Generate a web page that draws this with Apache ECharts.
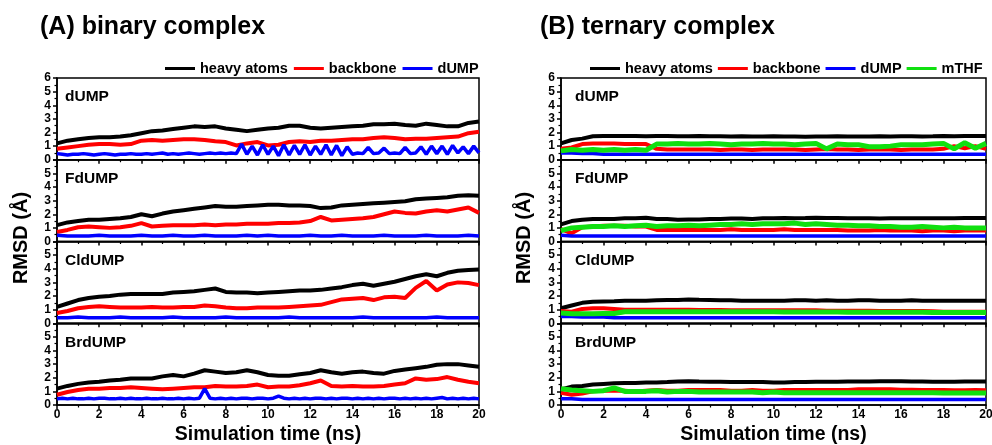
<!DOCTYPE html>
<html><head><meta charset="utf-8">
<script src="https://cdn.jsdelivr.net/npm/echarts@6/dist/echarts.min.js"></script>
<style>html,body{margin:0;padding:0;background:#fff}#c{width:992px;height:445px}</style>
</head><body><div id="c"></div>
<script>
// ---------- data ----------
const T = [0,0.5,1,1.5,2,2.5,3,3.5,4,4.5,5,5.5,6,6.5,7,7.5,8,8.5,9,9.5,10,10.5,11,11.5,12,12.5,13,13.5,14,14.5,15,15.5,16,16.5,17,17.5,18,18.5,19,19.5,20];
const TD = [0,0.25,0.5,0.75,1,1.25,1.5,1.75,2,2.25,2.5,2.75,3,3.25,3.5,3.75,4,4.25,4.5,4.75,5,5.25,5.5,5.75,6,6.25,6.5,6.75,7,7.25,7.5,7.75,8,8.25,8.5,8.75,9,9.25,9.5,9.75,10,10.25,10.5,10.75,11,11.25,11.5,11.75,12,12.25,12.5,12.75,13,13.25,13.5,13.75,14,14.25,14.5,14.75,15,15.25,15.5,15.75,16,16.25,16.5,16.75,17,17.25,17.5,17.75,18,18.25,18.5,18.75,19,19.25,19.5,19.75,20];
const xTicks = [0,2,4,6,8,10,12,14,16,18,20];
const yTicks = [0,1,2,3,4,5,6];
const seriesNames = ['heavy atoms','backbone','dUMP','mTHF'];
const ligands = ['dUMP','FdUMP','CldUMP','BrdUMP'];
const panelTitles = ['(A) binary complex','(B) ternary complex'];

// (A) binary complex
const A1_heavy = [1.2,1.4,1.5,1.6,1.65,1.65,1.7,1.8,1.95,2.1,2.15,2.25,2.35,2.45,2.4,2.45,2.3,2.2,2.1,2.2,2.3,2.35,2.5,2.5,2.35,2.3,2.35,2.4,2.45,2.5,2.6,2.6,2.65,2.55,2.5,2.65,2.55,2.45,2.45,2.7,2.8];
const A1_backbone = [0.8,0.9,1.0,1.1,1.15,1.15,1.1,1.15,1.4,1.45,1.4,1.45,1.5,1.5,1.45,1.35,1.3,1.05,1.2,1.3,1.05,1.1,1.3,1.35,1.3,1.4,1.4,1.45,1.5,1.5,1.6,1.65,1.6,1.5,1.55,1.55,1.6,1.65,1.7,1.95,2.05];
const A1_dUMP = [0.45,0.4,0.35,0.4,0.4,0.45,0.4,0.35,0.4,0.45,0.4,0.35,0.4,0.4,0.45,0.4,0.4,0.45,0.4,0.45,0.5,0.4,0.45,0.4,0.45,0.5,0.45,0.4,0.45,0.5,0.45,0.5,0.45,0.5,0.45,1.15,0.4,1.0,0.35,1.1,0.4,1.0,0.3,1.1,0.35,1.05,0.4,1.1,0.35,1.0,0.4,1.1,0.35,1.05,0.3,0.95,0.4,0.5,0.45,0.9,0.45,0.5,0.85,0.45,0.5,0.45,0.9,0.45,0.5,0.95,0.4,1.0,0.45,1.0,0.4,1.05,0.5,0.95,0.45,1.0,0.5];
const A2_heavy = [1.2,1.4,1.5,1.6,1.6,1.65,1.7,1.8,2.0,1.85,2.05,2.2,2.3,2.4,2.5,2.6,2.55,2.55,2.6,2.65,2.7,2.7,2.65,2.65,2.6,2.45,2.5,2.65,2.7,2.75,2.8,2.85,2.9,2.95,3.1,3.15,3.2,3.25,3.35,3.4,3.35];
const A2_backbone = [0.7,0.85,1.05,1.1,1.05,1.0,1.05,1.15,1.35,1.1,1.15,1.2,1.2,1.2,1.25,1.2,1.25,1.25,1.3,1.3,1.3,1.35,1.35,1.4,1.5,1.8,1.55,1.6,1.65,1.7,1.8,2.0,2.2,2.1,2.05,2.2,2.3,2.2,2.35,2.5,2.1];
const A2_dUMP = [0.45,0.4,0.4,0.4,0.45,0.4,0.4,0.4,0.45,0.4,0.4,0.45,0.4,0.4,0.45,0.4,0.4,0.4,0.45,0.4,0.45,0.4,0.4,0.4,0.45,0.4,0.4,0.45,0.4,0.4,0.4,0.45,0.4,0.4,0.4,0.45,0.4,0.4,0.4,0.45,0.4];
const A3_heavy = [1.2,1.45,1.7,1.85,1.95,2.0,2.1,2.15,2.15,2.15,2.15,2.25,2.3,2.35,2.45,2.55,2.3,2.25,2.25,2.2,2.25,2.3,2.35,2.4,2.4,2.45,2.55,2.65,2.8,2.9,2.75,2.9,3.05,3.25,3.45,3.6,3.45,3.7,3.85,3.9,3.95];
const A3_backbone = [0.75,0.9,1.1,1.2,1.25,1.2,1.15,1.15,1.15,1.2,1.15,1.15,1.2,1.2,1.3,1.25,1.15,1.1,1.1,1.15,1.15,1.15,1.2,1.25,1.3,1.35,1.55,1.75,1.8,1.85,1.7,1.9,1.95,1.85,2.6,3.1,2.4,2.85,3.0,2.95,2.8];
const A3_dUMP = [0.4,0.4,0.45,0.4,0.4,0.4,0.45,0.4,0.4,0.4,0.4,0.45,0.4,0.4,0.4,0.4,0.45,0.4,0.4,0.4,0.4,0.4,0.45,0.4,0.4,0.4,0.4,0.4,0.4,0.45,0.4,0.4,0.4,0.4,0.4,0.4,0.45,0.4,0.4,0.4,0.4];
const A4_heavy = [1.2,1.4,1.55,1.65,1.7,1.8,1.85,1.95,1.95,1.95,2.1,2.2,2.1,2.3,2.55,2.45,2.35,2.4,2.55,2.4,2.2,2.15,2.15,2.25,2.35,2.55,2.4,2.3,2.4,2.45,2.35,2.3,2.5,2.6,2.7,2.8,2.95,3.0,3.0,2.9,2.8];
const A4_backbone = [0.75,0.95,1.1,1.2,1.2,1.25,1.25,1.3,1.25,1.2,1.15,1.2,1.25,1.3,1.3,1.4,1.35,1.35,1.4,1.5,1.3,1.35,1.35,1.45,1.6,1.8,1.4,1.35,1.4,1.35,1.35,1.4,1.5,1.6,1.95,1.85,1.9,2.05,1.85,1.7,1.6];
const A4_dUMP = [0.45,0.5,0.45,0.5,0.45,0.45,0.5,0.45,0.5,0.5,0.45,0.45,0.5,0.45,0.5,0.45,0.45,0.5,0.45,0.45,0.5,0.45,0.45,0.5,0.45,0.5,0.45,0.5,1.2,0.5,0.45,0.5,0.45,0.5,0.45,0.5,0.5,0.45,0.5,0.5,0.45,0.5,0.65,0.5,0.45,0.5,0.45,0.5,0.45,0.5,0.5,0.45,0.5,0.45,0.5,0.5,0.45,0.5,0.45,0.5,0.45,0.5,0.45,0.5,0.5,0.45,0.5,0.45,0.5,0.45,0.5,0.45,0.5,0.55,0.45,0.5,0.45,0.5,0.45,0.5,0.45];

// (B) ternary complex
const B1_heavy = [1.2,1.45,1.55,1.72,1.75,1.75,1.75,1.75,1.72,1.75,1.75,1.72,1.72,1.75,1.72,1.72,1.7,1.72,1.7,1.7,1.72,1.7,1.7,1.68,1.7,1.7,1.72,1.7,1.7,1.7,1.72,1.7,1.72,1.72,1.7,1.72,1.75,1.72,1.75,1.75,1.75];
const B1_backbone = [0.8,0.9,1.15,1.2,1.2,1.2,1.15,1.15,1.15,0.8,0.75,0.75,0.75,0.75,0.75,0.72,0.75,0.75,0.72,0.75,0.75,0.75,0.75,0.72,0.75,0.78,0.75,0.75,0.72,0.75,0.75,0.75,0.72,0.75,0.75,0.75,0.8,1.0,0.85,1.0,0.8];
const B1_dUMP = [0.5,0.5,0.45,0.45,0.4,0.4,0.4,0.4,0.4,0.4,0.4,0.4,0.4,0.4,0.4,0.4,0.4,0.4,0.4,0.4,0.4,0.4,0.4,0.4,0.4,0.4,0.4,0.4,0.4,0.4,0.4,0.4,0.4,0.4,0.4,0.4,0.4,0.4,0.4,0.4,0.4];
const B1_mTHF = [0.65,0.75,0.7,0.75,0.7,0.75,0.7,0.75,0.7,1.15,1.15,1.2,1.15,1.15,1.2,1.15,1.1,1.15,1.15,1.2,1.15,1.15,1.1,1.15,1.2,0.8,1.15,1.1,1.1,0.95,0.95,1.0,1.1,1.1,1.1,1.15,1.2,0.8,1.25,0.85,1.2];
const B2_heavy = [1.25,1.5,1.6,1.65,1.65,1.65,1.7,1.7,1.75,1.65,1.65,1.6,1.62,1.62,1.65,1.65,1.68,1.68,1.65,1.7,1.7,1.72,1.7,1.72,1.75,1.72,1.72,1.7,1.7,1.7,1.68,1.7,1.7,1.7,1.7,1.7,1.7,1.7,1.72,1.72,1.72];
const B2_backbone = [0.9,0.6,1.05,1.1,1.15,1.15,1.15,1.1,1.1,0.85,0.85,0.85,0.85,0.85,0.85,0.85,0.9,0.85,0.85,0.85,0.85,0.9,0.85,0.85,0.85,0.85,0.85,0.8,0.8,0.8,0.85,0.8,0.8,0.8,0.75,0.8,0.8,0.75,0.8,0.8,0.8];
const B2_dUMP = [0.45,0.4,0.4,0.4,0.4,0.4,0.4,0.4,0.4,0.4,0.4,0.4,0.4,0.4,0.4,0.4,0.4,0.4,0.4,0.4,0.4,0.4,0.4,0.4,0.4,0.4,0.4,0.4,0.4,0.4,0.4,0.4,0.4,0.4,0.4,0.4,0.4,0.4,0.4,0.4,0.4];
const B2_mTHF = [0.8,1.0,1.05,1.1,1.1,1.15,1.1,1.15,1.2,1.1,1.15,1.15,1.2,1.15,1.2,1.25,1.25,1.3,1.25,1.3,1.3,1.3,1.35,1.25,1.3,1.25,1.2,1.2,1.15,1.15,1.1,1.1,1.05,1.05,1.1,1.05,1.0,1.05,1.0,1.0,1.0];
const B3_heavy = [1.1,1.3,1.5,1.58,1.6,1.62,1.65,1.65,1.65,1.68,1.7,1.7,1.75,1.72,1.7,1.68,1.68,1.65,1.65,1.65,1.65,1.65,1.68,1.68,1.65,1.68,1.65,1.65,1.68,1.68,1.65,1.65,1.65,1.68,1.65,1.65,1.65,1.65,1.65,1.65,1.65];
const B3_backbone = [0.9,0.85,1.05,1.1,1.1,1.05,1.0,1.0,1.0,1.0,1.0,1.0,1.0,0.98,0.98,0.98,0.95,0.95,0.95,0.95,0.95,0.95,0.95,0.95,0.95,0.92,0.92,0.92,0.92,0.92,0.9,0.9,0.9,0.9,0.9,0.88,0.85,0.85,0.85,0.85,0.85];
const B3_dUMP = [0.5,0.5,0.45,0.45,0.45,0.4,0.4,0.4,0.4,0.4,0.4,0.4,0.4,0.4,0.4,0.4,0.4,0.4,0.4,0.4,0.4,0.4,0.4,0.4,0.4,0.4,0.4,0.4,0.4,0.4,0.4,0.4,0.4,0.4,0.4,0.4,0.4,0.4,0.4,0.4,0.4];
const B3_mTHF = [0.75,0.7,0.7,0.7,0.72,0.72,0.85,0.85,0.85,0.85,0.85,0.85,0.85,0.85,0.85,0.85,0.85,0.85,0.85,0.85,0.85,0.82,0.82,0.82,0.82,0.82,0.82,0.8,0.8,0.8,0.8,0.8,0.8,0.8,0.8,0.78,0.78,0.78,0.78,0.78,0.78];
const B4_heavy = [1.15,1.35,1.4,1.5,1.55,1.6,1.62,1.62,1.65,1.65,1.68,1.72,1.75,1.72,1.7,1.7,1.68,1.68,1.68,1.68,1.65,1.65,1.68,1.68,1.7,1.7,1.7,1.72,1.72,1.72,1.75,1.75,1.75,1.72,1.72,1.7,1.7,1.7,1.72,1.72,1.72];
const B4_backbone = [0.9,0.75,0.85,1.0,1.05,1.05,1.05,1.0,1.05,1.1,1.05,1.05,1.1,1.1,1.1,1.1,1.05,1.05,1.1,1.05,1.05,1.1,1.1,1.1,1.1,1.1,1.1,1.1,1.15,1.15,1.15,1.15,1.12,1.12,1.1,1.1,1.1,1.08,1.08,1.1,1.08];
const B4_dUMP = [0.45,0.45,0.4,0.4,0.4,0.4,0.4,0.4,0.4,0.4,0.4,0.4,0.4,0.4,0.4,0.4,0.4,0.4,0.4,0.4,0.4,0.4,0.4,0.4,0.4,0.4,0.4,0.4,0.4,0.4,0.4,0.4,0.4,0.4,0.4,0.4,0.4,0.4,0.4,0.4,0.4];
const B4_mTHF = [1.2,1.1,1.05,1.0,1.05,1.25,1.0,1.0,1.0,1.05,0.95,1.0,1.0,0.95,0.95,0.95,0.95,0.95,0.95,0.9,0.95,0.9,0.9,0.9,0.9,0.9,0.9,0.9,0.9,0.9,0.9,0.9,0.9,0.9,0.9,0.9,0.88,0.88,0.88,0.88,0.88];

// ---------- layout / style ----------
const subplots = [
  [[0,T,A1_heavy],[1,T,A1_backbone],[2,TD,A1_dUMP]],
  [[0,T,A2_heavy],[1,T,A2_backbone],[2,T,A2_dUMP]],
  [[0,T,A3_heavy],[1,T,A3_backbone],[2,T,A3_dUMP]],
  [[0,T,A4_heavy],[1,T,A4_backbone],[2,TD,A4_dUMP]],
  [[0,T,B1_heavy],[1,T,B1_backbone],[2,T,B1_dUMP],[3,T,B1_mTHF]],
  [[0,T,B2_heavy],[1,T,B2_backbone],[2,T,B2_dUMP],[3,T,B2_mTHF]],
  [[0,T,B3_heavy],[1,T,B3_backbone],[2,T,B3_dUMP],[3,T,B3_mTHF]],
  [[0,T,B4_heavy],[1,T,B4_backbone],[2,T,B4_dUMP],[3,T,B4_mTHF]]
];
const COLORS = ['#000000','#ff0000','#0000ff','#10e010'];
const WIDTHS = [4,4,3.5,5];
const FONT = '"Liberation Sans", Arial, sans-serif';
const panelLeft = [57, 561], panelWidth = [422, 425];
const gridTop = 78, gridH = 81.75;

const grids = [], xAxes = [], yAxes = [], series = [], graphics = [];
for (let g = 0; g < 8; g++) {
  const p = g >> 2, k = g % 4;
  grids.push({left: panelLeft[p], width: panelWidth[p], top: gridTop + k*gridH, height: gridH,
    outerBoundsMode: 'none', containLabel: false,
    show: true, borderColor: '#000', borderWidth: 1.5, backgroundColor: 'transparent'});
  xAxes.push({gridIndex: g, type: 'value', min: xTicks[0], max: xTicks[xTicks.length-1], interval: xTicks[1]-xTicks[0],
    axisLine: {lineStyle: {color: '#000', width: 1.5}},
    axisTick: {show: true, inside: false, length: 4, lineStyle: {color: '#000', width: 1.5}},
    minorTick: {show: true, splitNumber: 2, length: 2.5, lineStyle: {color: '#000', width: 1.2}},
    splitLine: {show: false},
    axisLabel: {show: k === 3, color: '#000', fontWeight: 'bold', fontSize: 12, fontFamily: FONT, margin: 4, hideOverlap: false},
    name: k === 3 ? 'Simulation time (ns)' : '', nameLocation: 'middle', nameGap: 20,
    nameTextStyle: {color: '#000', fontWeight: 'bold', fontSize: 19.5, fontFamily: FONT}
  });
  yAxes.push({gridIndex: g, type: 'value', min: yTicks[0], max: yTicks[yTicks.length-1], interval: 1,
    axisLine: {lineStyle: {color: '#000', width: 1.5}},
    axisTick: {show: true, inside: false, length: 4, lineStyle: {color: '#000', width: 1.5}},
    minorTick: {show: true, splitNumber: 2, length: 2.5, lineStyle: {color: '#000', width: 1.2}},
    splitLine: {show: false},
    axisLabel: {color: '#000', fontWeight: 'bold', fontSize: 12, fontFamily: FONT, margin: 6, showMaxLabel: k === 0, showMinLabel: true}
  });
  subplots[g].forEach(([si, times, vals]) => {
    series.push({type: 'line', name: seriesNames[si], xAxisIndex: g, yAxisIndex: g,
      data: times.map((t, i) => [t, vals[i]]), symbol: 'none', showSymbol: false,
      lineStyle: {color: COLORS[si], width: WIDTHS[si]}, itemStyle: {color: COLORS[si]},
      silent: true, animation: false, z: 2 + si});
  });
  graphics.push({type: 'text', left: panelLeft[p] + 8 + p*6, top: gridTop + k*gridH + 11,
    style: {text: ligands[k], font: 'bold 15.5px ' + FONT, fill: '#000'}, z: 20});
}
graphics.push({type: 'text', left: 40, top: 15, style: {text: panelTitles[0], font: 'bold 25px ' + FONT, fill: '#000'}});
graphics.push({type: 'text', left: 540, top: 15, style: {text: panelTitles[1], font: 'bold 25px ' + FONT, fill: '#000'}});
[21, 524].forEach(cx => graphics.push({type: 'text', x: cx, y: 238, rotation: Math.PI/2,
  style: {text: 'RMSD (Å)', font: 'bold 20px ' + FONT, fill: '#000', align: 'center', verticalAlign: 'middle'}}));

const legendBase = {orient: 'horizontal', top: 61, padding: 0, icon: 'rect', itemWidth: 30, itemHeight: 3,
  textStyle: {color: '#000', fontWeight: 'bold', fontSize: 14.5, fontFamily: FONT, padding: [0,0,0,0]},
  selectedMode: false};

const chart = echarts.init(document.getElementById('c'), null, {renderer: 'canvas'});
chart.setOption({
  backgroundColor: '#fff',
  animation: false,
  grid: grids, xAxis: xAxes, yAxis: yAxes, series: series,
  legend: [
    Object.assign({}, legendBase, {left: 165, itemGap: 6, data: seriesNames.slice(0,3)}),
    Object.assign({}, legendBase, {left: 590, itemGap: 5, data: seriesNames.slice(0,4)})
  ],
  graphic: graphics
});
</script></body></html>
